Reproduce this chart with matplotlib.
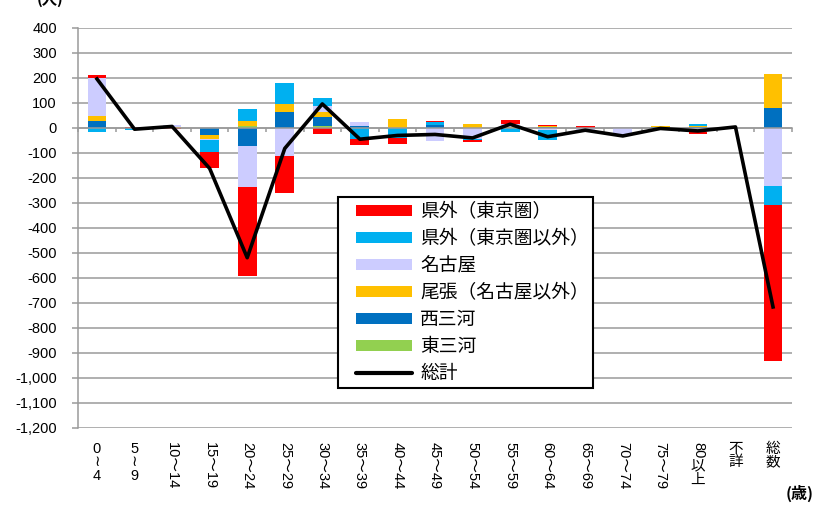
import matplotlib
matplotlib.use("Agg")
import matplotlib.pyplot as plt
import numpy as np
from matplotlib import transforms
from matplotlib.patches import Patch, Rectangle
from matplotlib.lines import Line2D
from matplotlib.legend_handler import HandlerBase
from matplotlib.font_manager import FontProperties

# ---------------- data ----------------
categories = ["0～4", "5～9", "10～14", "15～19", "20～24", "25～29", "30～34",
              "35～39", "40～44", "45～49", "50～54", "55～59", "60～64", "65～69",
              "70～74", "75～79", "80以上", "不詳", "総数"]

higashi_mikawa = [0, 0, 0, 0, 5, 0, 8, 0, 0, 0, 0, 0, 0, 0, 0, 0, 0, 0, 0]
nishi_mikawa = [26, 0, 0, -29, -73, 64, 35, 6, 0, 10, 0, 0, 2, 0, 0, 2, 3, 0, 80]
owari = [21, -3, 2, -17, 21, 32, 18, 0, 35, 0, 15, 4, 4, 0, 0, 5, 4, 0, 135]
nagoya = [153, 0, 7, -5, -165, -113, 24, 18, 0, -55, -44, 10, -10, -12, -28, -10, -16, 0, -233]
kengai_other = [-18, -6, 0, -45, 47, 81, 35, -45, -43, 13, -7, -18, -38, -5, -5, 0, 7, 0, -76]
kengai_tokyo = [9, 3, -4, -67, -355, -147, -25, -25, -23, 5, -5, 18, 6, 7, 0, 0, -11, 0, -623]
total = [195, -6, 5, -163, -520, -83, 95, -46, -31, -27, -41, 14, -36, -10, -33, -3, -13, 3, -717]

series_names = ["東三河", "西三河", "尾張（名古屋以外）", "名古屋", "県外（東京圏以外）", "県外（東京圏）"]
series_values = [higashi_mikawa, nishi_mikawa, owari, nagoya, kengai_other, kengai_tokyo]
series_colors = ["#92D050", "#0070C0", "#FFC000", "#CCCCFF", "#00B0F0", "#FF0000"]
total_name = "総計"

yticks = list(range(-1200, 401, 100))
ytick_labels = [f"{v:,}" for v in yticks]

# vertical label pieces: (text, rotated, advance_em for upright pieces)
label_pieces = {}
for c in categories:
    if c in ("0～4", "5～9"):
        a, b = c.split("～")
        label_pieces[c] = [(f"{a}\n≀\n{b}", False, 3.0)]
    elif c == "80以上":
        label_pieces[c] = [("80", True, None), ("以\n上", False, 2.1)]
    elif c in ("不詳", "総数"):
        label_pieces[c] = [(f"{c[0]}\n{c[1]}", False, 2.1)]
    else:
        label_pieces[c] = [(c, True, None)]

# ---------------- figure ----------------
W, H = 819, 505
fig = plt.figure(figsize=(W / 100, H / 100), dpi=100)
ax_left, ax_right, ax_top, ax_bottom = 78.2, 791.8, 27.7, 427.7
ax = fig.add_axes([ax_left / W, 1 - ax_bottom / H, (ax_right - ax_left) / W, (ax_bottom - ax_top) / H])

grid_color = "#9A9A9A"
x = np.arange(len(categories))
pos_base = np.zeros(len(categories))
neg_base = np.zeros(len(categories))
for vals, color in zip(series_values, series_colors):
    v = np.array(vals, dtype=float)
    p = np.where(v > 0, v, 0)
    n = np.where(v < 0, v, 0)
    ax.bar(x, p, 0.5, bottom=pos_base, color=color, linewidth=0, zorder=2)
    ax.bar(x, n, 0.5, bottom=neg_base, color=color, linewidth=0, zorder=2)
    pos_base += p
    neg_base += n

ax.plot(x, total, color="black", lw=2.6, zorder=4)

ax.set_xlim(-0.5, len(categories) - 0.5)
ax.set_ylim(-1200, 400)
ax.set_yticks(yticks)
ax.set_yticklabels(ytick_labels, fontsize=10.5, family=["Liberation Sans"])
ax.yaxis.grid(True, color=grid_color, lw=1.1)
ax.set_axisbelow(True)
for s in ("top", "right"):
    ax.spines[s].set_visible(False)
ax.spines["left"].set_color(grid_color)
ax.spines["left"].set_linewidth(1.1)
ax.spines["bottom"].set_position(("data", 0))
ax.spines["bottom"].set_color(grid_color)
ax.spines["bottom"].set_linewidth(1.1)
ax.set_xticks([])
ax.set_xticks(np.arange(-0.5, len(categories), 1), minor=True)
ax.tick_params(axis="x", which="minor", direction="out", length=3, color=grid_color,
               width=1.1, labelbottom=False)
ax.tick_params(axis="y", direction="out", length=4.3, color=grid_color, width=1.1, pad=11)

# ---------------- category labels (vertical writing) ----------------
fig.canvas.draw()
renderer = fig.canvas.get_renderer()
base = transforms.blended_transform_factory(ax.transData, ax.transAxes)
lab_fs = 10.5
lab_family = ["Liberation Sans", "Noto Sans CJK JP", "DejaVu Sans"]
start_pt = (442 - ax_bottom) * 72 / 100
for xi, c in zip(x, categories):
    cur = start_pt
    for txt, rot, adv in label_pieces[c]:
        tr = transforms.offset_copy(base, fig=fig, y=-cur, units="points")
        t = ax.text(xi, 0, txt, transform=tr, rotation=-90 if rot else 0,
                    ha="center", va="top", ma="center", fontsize=lab_fs,
                    family=lab_family, linespacing=0.95, clip_on=False)
        bb = t.get_window_extent(renderer)
        cur += bb.height * 72 / fig.dpi + 1

# unit labels
fig.text(50 / W, 1 - 4 / H, "(人)", ha="center", va="baseline", fontsize=11,
         fontweight="bold", family=["Noto Sans CJK JP"])
fig.text(800 / W, 1 - 493 / H, "(歳)", ha="center", va="center", fontsize=11.5,
         fontweight="bold", family=["Noto Sans CJK JP"])

# ---------------- legend ----------------
class OffsetHandler(HandlerBase):
    def __init__(self, frac):
        super().__init__()
        self.frac = frac

    def create_artists(self, legend, orig_handle, xdescent, ydescent, width, height, fontsize, trans):
        x0 = -xdescent + width * self.frac
        x1 = -xdescent + width
        if isinstance(orig_handle, Patch):
            r = Rectangle((x0, -ydescent), x1 - x0, height,
                          facecolor=orig_handle.get_facecolor(), edgecolor="none", transform=trans)
            return [r]
        ln = Line2D([x0, x1], [height / 2 - ydescent] * 2, color="black", lw=3,
                    solid_capstyle="round", transform=trans)
        return [ln]

handles = []
labels = []
for name, color in zip(series_names[::-1], series_colors[::-1]):
    handles.append(Patch(facecolor=color))
    labels.append(name)
handles.append(Line2D([0], [0], color="black"))
labels.append(total_name)
h = OffsetHandler(0.2)
leg = ax.legend(handles, labels, loc="upper left", bbox_to_anchor=(338 / W, 1 - 197 / H),
                bbox_transform=fig.transFigure, frameon=True, fancybox=False,
                edgecolor="black", framealpha=1, borderaxespad=0,
                prop=FontProperties(family=["Noto Sans CJK JP"], size=13.5),
                handlelength=3.73, handleheight=0.59, labelspacing=0.32,
                borderpad=0.22, handletextpad=0.43,
                handler_map={Patch: h, Line2D: h})
leg.get_frame().set_linewidth(1.5)
leg.set_zorder(5)

fig.savefig("out.png", dpi=100)
